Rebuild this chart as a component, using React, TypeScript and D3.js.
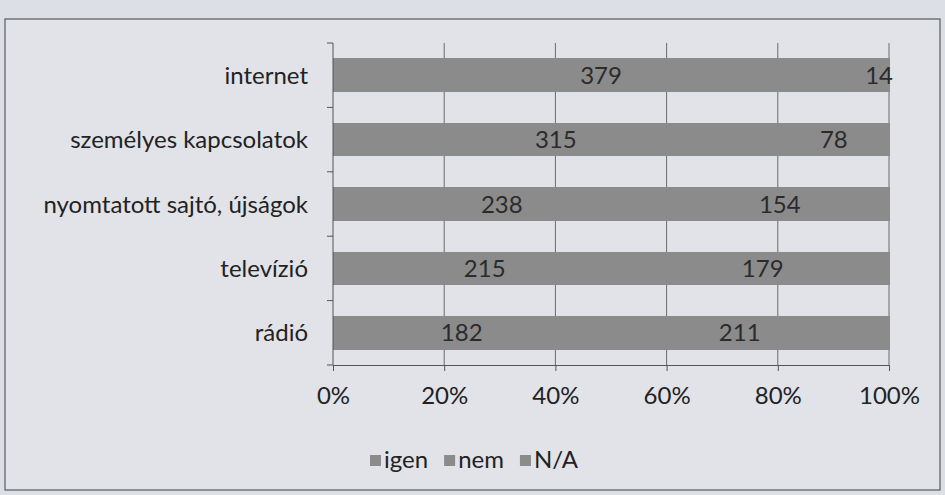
import React, { useRef, useEffect } from 'react';
import * as d3 from 'd3';

const categories = ['internet', 'személyes kapcsolatok', 'nyomtatott sajtó, újságok', 'televízió', 'rádió'];
const igen = [379, 315, 238, 215, 182];
const nem = [14, 78, 154, 179, 211];
const na = [0, 0, 0, 0, 0];
const seriesNames = ['igen', 'nem', 'N/A'];
const xTicks = [0, 0.2, 0.4, 0.6, 0.8, 1];

const W = 945;
const H = 495;
const FONT = 'Lato, "Open Sans", sans-serif';
const FS = 24;

export default function App() {
  const ref = useRef<SVGSVGElement | null>(null);

  useEffect(() => {
    if (!ref.current) return;
    const svg = d3.select(ref.current);
    svg.selectAll('*').remove();

    const margin = { top: 43, right: 56, bottom: 130, left: 333 };
    const x = d3.scaleLinear().domain([0, 1]).range([margin.left, W - margin.right]);
    const y = d3.scaleBand<string>().domain(categories).range([margin.top, H - margin.bottom]).paddingInner(0.48).paddingOuter(0.24);

    // paper background + frame
    svg.append('rect').attr('width', W).attr('height', H).attr('fill', '#dcdfe6');
    svg.append('rect').attr('x', 5).attr('y', 19).attr('width', 935).attr('height', 471)
      .attr('fill', '#e1e3e9').attr('stroke', '#5a5a5a').attr('stroke-width', 1.2);

    // gridlines
    svg.append('g').selectAll('line').data(xTicks.slice(1)).join('line')
      .attr('x1', d => x(d)).attr('x2', d => x(d))
      .attr('y1', margin.top).attr('y2', H - margin.bottom)
      .attr('stroke', '#6a6a6a').attr('stroke-width', 1);

    const rows = categories.map((c, i) => ({ c, vals: [igen[i], nem[i], na[i]] }));

    rows.forEach(r => {
      const total = d3.sum(r.vals);
      let acc = 0;
      r.vals.forEach(v => {
        const x0 = x(acc / total);
        acc += v;
        const x1 = x(acc / total);
        if (v <= 0) return;
        svg.append('rect')
          .attr('x', x0).attr('width', x1 - x0 + 0.6)
          .attr('y', y(r.c)!).attr('height', y.bandwidth())
          .attr('fill', '#8b8b8b').attr('shape-rendering', 'crispEdges');
        svg.append('text')
          .attr('x', (x0 + x1) / 2).attr('y', y(r.c)! + y.bandwidth() / 2)
          .attr('dy', '0.36em').attr('text-anchor', 'middle')
          .attr('font-family', FONT).attr('font-size', FS).attr('fill', '#2b2b2b')
          .text(v);
      });
    });

    // category axis
    const yAxis = svg.append('g').attr('transform', `translate(${margin.left},0)`);
    yAxis.append('line').attr('y1', margin.top).attr('y2', H - margin.bottom).attr('stroke', '#555');
    const step = y.step();
    const bounds = d3.range(categories.length + 1).map(i => margin.top + i * step);
    yAxis.selectAll('line.tk').data(bounds).join('line').attr('class', 'tk')
      .attr('x1', -6).attr('x2', 0).attr('y1', d => d).attr('y2', d => d).attr('stroke', '#555');
    yAxis.selectAll('text').data(categories).join('text')
      .attr('x', -25).attr('y', d => y(d)! + y.bandwidth() / 2).attr('dy', '0.36em')
      .attr('text-anchor', 'end').attr('font-family', FONT).attr('font-size', FS).attr('fill', '#222')
      .text(d => d);

    // value axis
    const xAxis = svg.append('g').attr('transform', `translate(0,${H - margin.bottom})`)
      .call(d3.axisBottom(x).tickValues(xTicks).tickFormat(d3.format('.0%')).tickSize(6).tickSizeOuter(0).tickPadding(16));
    xAxis.selectAll('.domain, .tick line').attr('stroke', '#555');
    xAxis.selectAll('.tick text').attr('font-family', FONT).attr('font-size', FS).attr('fill', '#222');

    // legend
    const lg = svg.append('g').attr('transform', 'translate(370,461)');
    let lx = 0;
    seriesNames.forEach(n => {
      const g = lg.append('g').attr('transform', `translate(${lx},0)`);
      g.append('rect').attr('x', 0).attr('y', -6).attr('width', 11).attr('height', 11).attr('fill', '#8b8b8b');
      const t = g.append('text').attr('x', 14).attr('y', 0).attr('dy', '0.3em')
        .attr('font-family', FONT).attr('font-size', FS).attr('fill', '#222').text(n);
      const w = (t.node() as SVGTextElement).getComputedTextLength();
      lx += 14 + w + 16;
    });
  }, []);

  return (
    <div style={{ position: 'fixed', left: 0, top: 0, width: W, height: H }}>
      <svg ref={ref} width={W} height={H} style={{ display: 'block' }} />
    </div>
  );
}
